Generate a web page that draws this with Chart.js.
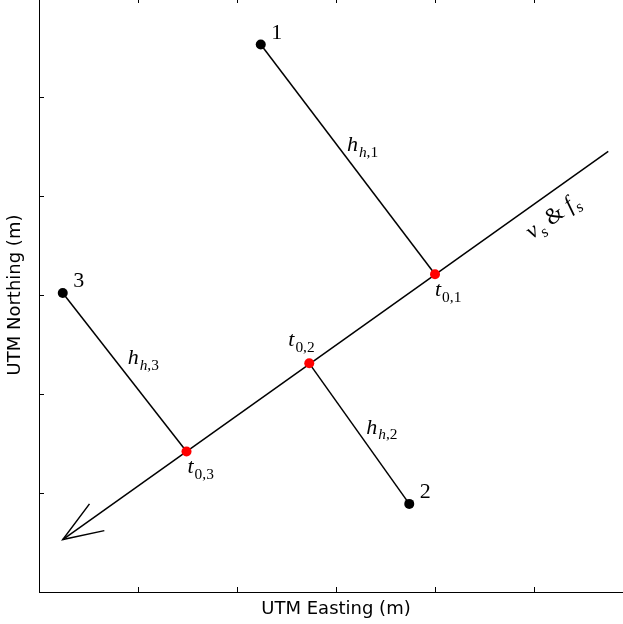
<!DOCTYPE html>
<html>
<head>
<meta charset="utf-8">
<script src="https://cdn.jsdelivr.net/npm/chart.js@4.4.1/dist/chart.umd.min.js"></script>
<style>
  html, body { margin: 0; padding: 0; background: #fff; overflow: hidden; }
  #wrap { position: absolute; left: 0; top: -10px; }
</style>
</head>
<body>
<div id="wrap"><canvas id="chart" width="700" height="700"></canvas></div>
<script>
// Axes ticks (no tick labels shown)
const xTicks = [0, 1, 2, 3, 4, 5, 6];
const yTicks = [0, 1, 2, 3, 4, 5, 6];

// Stations (black)
const stationNames = ['1', '2', '3'];
const stationX = [2.24, 3.74, 0.24];
const stationY = [5.53, 0.89, 3.02];

// Closest points on source line (red)
const t0X = [4.00, 2.73, 1.49];
const t0Y = [3.21, 2.31, 1.42];

// Source line and arrow head
const lineX = [5.75, 0.24];
const lineY = [4.45, 0.53];
const arrowX = [0.51, 0.24, 0.66];
const arrowY = [0.89, 0.53, 0.62];

const pts = (xs, ys) => xs.map((x, i) => ({ x, y: ys[i] }));

// first dataset is drawn on top, so the dots go first
const datasets = [
  { data: pts(t0X, t0Y), backgroundColor: '#ff0000', borderColor: '#ff0000', pointRadius: 5, borderWidth: 0 },
  { data: pts(stationX, stationY), backgroundColor: '#000', borderColor: '#000', pointRadius: 5, borderWidth: 0 },
  { data: pts(lineX, lineY), showLine: true, borderColor: '#000', borderWidth: 1.5, pointRadius: 0 },
  { data: pts(arrowX, arrowY), showLine: true, borderColor: '#000', borderWidth: 1.5, pointRadius: 0 }
];
stationX.forEach((x, i) => {
  datasets.push({
    data: [{ x, y: stationY[i] }, { x: t0X[i], y: t0Y[i] }],
    showLine: true, borderColor: '#000', borderWidth: 1.5, pointRadius: 0
  });
});

const MATH = 'Liberation Serif';

// draws text made of parts: {t, it, sub}
function drawMath(ctx, parts, x, y, size) {
  let cx = x;
  parts.forEach(p => {
    const fs = p.sub ? size * 0.7 : size;
    ctx.font = (p.it ? 'italic ' : '') + fs + 'px "' + MATH + '"';
    ctx.fillText(p.t, cx, p.sub ? y + size * 0.25 : y);
    cx += ctx.measureText(p.t).width + (p.it && !p.sub ? 1 : 0);
  });
  return cx - x;
}

const annotate = {
  id: 'annotate',
  afterDraw(chart) {
    const { ctx, chartArea: a, scales: { x, y } } = chart;
    ctx.save();
    // spines
    ctx.strokeStyle = '#000';
    ctx.lineWidth = 1;
    ctx.strokeRect(Math.round(a.left) + 0.5, Math.round(a.top) + 0.5, Math.round(a.right - a.left), Math.round(a.bottom - a.top));
    // inward ticks
    ctx.beginPath();
    xTicks.forEach(v => {
      const px = Math.round(x.getPixelForValue(v)) + 0.5;
      ctx.moveTo(px, a.bottom); ctx.lineTo(px, a.bottom - 5);
      ctx.moveTo(px, a.top); ctx.lineTo(px, a.top + 5);
    });
    yTicks.forEach(v => {
      const py = Math.round(y.getPixelForValue(v)) + 0.5;
      ctx.moveTo(a.left, py); ctx.lineTo(a.left + 5, py);
      ctx.moveTo(a.right, py); ctx.lineTo(a.right - 5, py);
    });
    ctx.stroke();

    ctx.fillStyle = '#000';
    ctx.textBaseline = 'alphabetic';
    // station numbers
    ctx.textAlign = 'center';
    ctx.font = '22px "' + MATH + '"';
    stationNames.forEach((n, i) => {
      ctx.fillText(n, x.getPixelForValue(stationX[i]) + 16, y.getPixelForValue(stationY[i]) - 6);
    });
    ctx.textAlign = 'left';
    // t0 labels
    const tOff = [[0, 22], [-21, -17], [1, 22]];
    t0X.forEach((v, i) => {
      drawMath(ctx, [{ t: 't', it: true }, { t: '0,' + (i + 1), sub: true }],
        x.getPixelForValue(v) + tOff[i][0], y.getPixelForValue(t0Y[i]) + tOff[i][1], 22);
    });
    // h labels at middle of each perpendicular
    const hOff = [[-1, -8], [7, 0], [3, -8]];
    stationX.forEach((v, i) => {
      const mx = (x.getPixelForValue(v) + x.getPixelForValue(t0X[i])) / 2;
      const my = (y.getPixelForValue(stationY[i]) + y.getPixelForValue(t0Y[i])) / 2;
      drawMath(ctx, [{ t: 'h', it: true }, { t: 'h', it: true, sub: true }, { t: ',' + (i + 1), sub: true }],
        mx + hOff[i][0], my + hOff[i][1], 22);
    });
    // v_s & f_s along the line
    const ang = Math.atan2(y.getPixelForValue(lineY[0]) - y.getPixelForValue(lineY[1]),
      x.getPixelForValue(lineX[0]) - x.getPixelForValue(lineX[1]));
    ctx.save();
    ctx.translate(x.getPixelForValue(5.26), y.getPixelForValue(3.76));
    ctx.rotate(ang);
    drawMath(ctx, [{ t: 'v', it: true }, { t: 's', it: true, sub: true }, { t: ' & ', it: false },
      { t: 'f', it: true }, { t: 's', it: true, sub: true }], -34, 0, 23);
    ctx.restore();

    // axis titles
    ctx.font = '18px "DejaVu Sans"';
    ctx.textAlign = 'center';
    ctx.fillText('UTM Easting (m)', (a.left + a.right) / 2, a.bottom + 22);
    ctx.save();
    ctx.translate(a.left - 19, (a.top + a.bottom) / 2);
    ctx.rotate(-Math.PI / 2);
    ctx.fillText('UTM Northing (m)', 0, 0);
    ctx.restore();
    ctx.restore();
  }
};

new Chart(document.getElementById('chart'), {
  type: 'scatter',
  data: { datasets },
  options: {
    responsive: false,
    animation: false,
    events: [],
    layout: { padding: { left: 39, top: 8, right: 67, bottom: 98 } },
    plugins: { legend: { display: false }, tooltip: { enabled: false } },
    scales: {
      x: { type: 'linear', min: 0, max: 6, display: false },
      y: { type: 'linear', min: 0, max: 6, display: false }
    }
  },
  plugins: [annotate]
});
</script>
</body>
</html>
